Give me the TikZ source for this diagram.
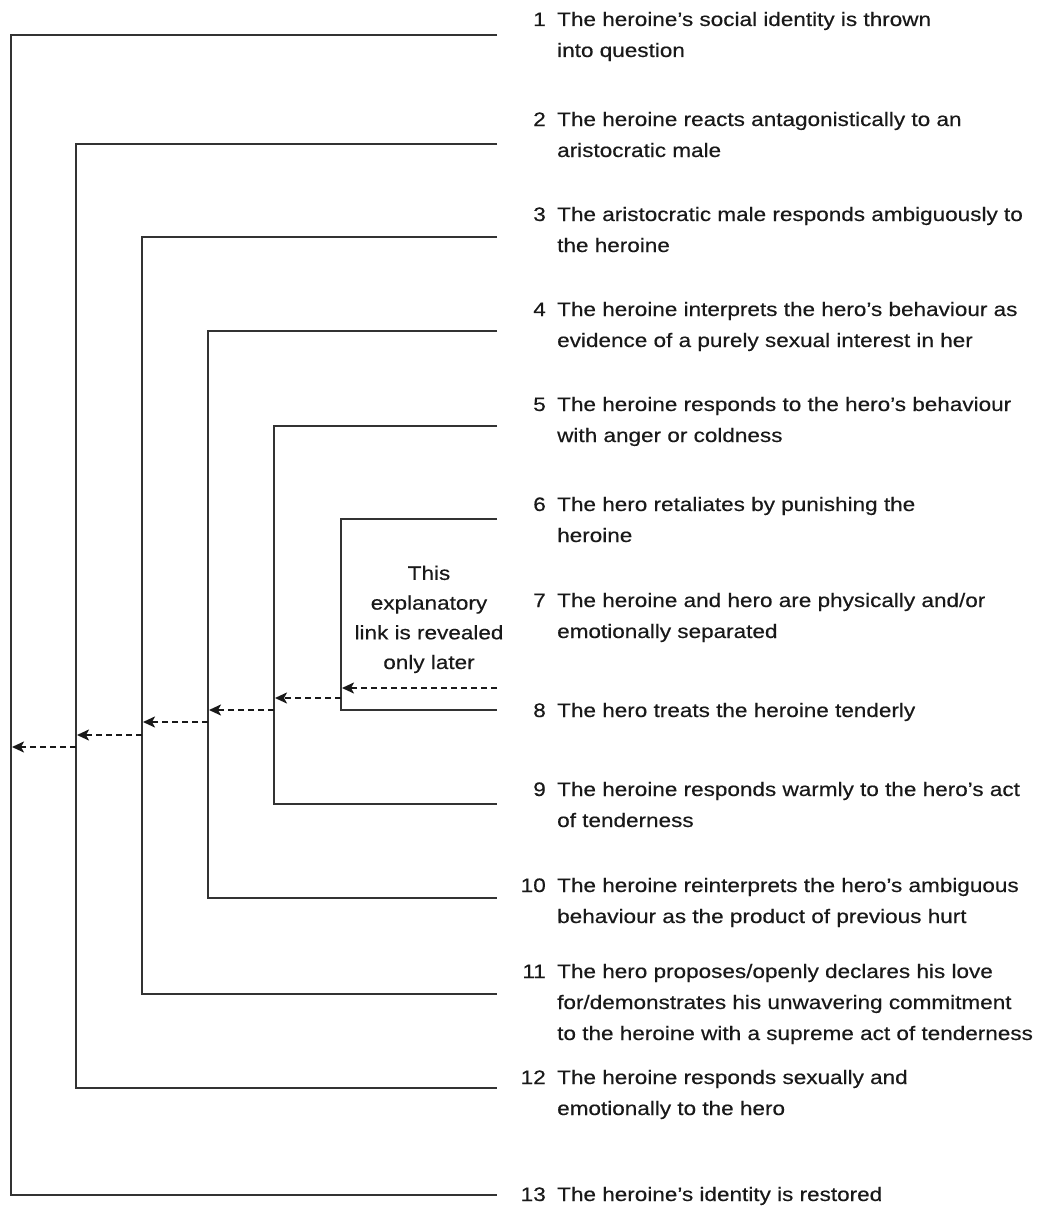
\documentclass[tikz,border=0pt]{standalone}
\usepackage{fontspec}
\setmainfont{Liberation Sans}[FakeStretch=1.155,FakeBold=0.4]
\usetikzlibrary{arrows.meta}
\begin{document}
\begin{tikzpicture}[x=1pt,y=-1pt,
  bracket/.style={draw=black!80,line width=2.2pt},
  revlink/.style={draw=black!90,line width=2.2pt,dash pattern=on 6pt off 4pt,
    -{Stealth[length=12pt,width=11pt,inset=3pt]}},
  num/.style={anchor=base east,inner sep=0pt,text=black!90,
    font=\fontsize{19.5}{31}\selectfont},
  item/.style={anchor=base west,inner sep=0pt,text=black!90,
    font=\fontsize{19.5}{31}\selectfont},
  note/.style={anchor=base,inner sep=0pt,text=black!90,align=center,
    font=\fontsize{19.5}{29.7}\selectfont}]
\useasboundingbox (0,0) rectangle (1039,1207);
\fill[white] (0,0) rectangle (1039,1207);

% right ends of the bracket arms
\foreach \n/\y in {1/35,2/144,3/237,4/331,5/426,6/519,8/710,9/804,10/898,11/994,12/1088,13/1195}
  \coordinate (e\n) at (497,\y);
% vertical spines of the nested brackets
\coordinate (s1t) at (11,35);    \coordinate (s1b) at (11,1195);
\coordinate (s2t) at (76,144);   \coordinate (s2b) at (76,1088);
\coordinate (s3t) at (142,237);  \coordinate (s3b) at (142,994);
\coordinate (s4t) at (208,331);  \coordinate (s4b) at (208,898);
\coordinate (s5t) at (274,426);  \coordinate (s5b) at (274,804);
\coordinate (s6t) at (341,519);  \coordinate (s6b) at (341,710);

\draw[bracket] (e1) -- (s1t) -- (s1b) -- (e13);
\draw[bracket] (e2) -- (s2t) -- (s2b) -- (e12);
\draw[bracket] (e3) -- (s3t) -- (s3b) -- (e11);
\draw[bracket] (e4) -- (s4t) -- (s4b) -- (e10);
\draw[bracket] (e5) -- (s5t) -- (s5b) -- (e9);
\draw[bracket] (e6) -- (s6t) -- (s6b) -- (e8);

% backward explanatory links
\coordinate (d0) at (497,688);
\coordinate (d6a) at (342,688); \coordinate (d6b) at (341,698);
\coordinate (d5a) at (275,698); \coordinate (d5b) at (274,710);
\coordinate (d4a) at (209,710); \coordinate (d4b) at (208,722);
\coordinate (d3a) at (143,722); \coordinate (d3b) at (142,735);
\coordinate (d2a) at (77,735);  \coordinate (d2b) at (76,747);
\coordinate (d1a) at (12,747);
\draw[revlink] (d0) -- (d6a);
\draw[revlink] (d6b) -- (d5a);
\draw[revlink] (d5b) -- (d4a);
\draw[revlink] (d4b) -- (d3a);
\draw[revlink] (d3b) -- (d2a);
\draw[revlink] (d2b) -- (d1a);

% base anchor of a centred multi-line node sits on its last line
\node[note] (link) at (429,669) {This\\explanatory\\link is revealed\\only later};

% numbered steps
\newcommand\stepitem[3]{%
  \node[num] (n#1) at (546,#2) {#1};
  \node[item] (t#1) at (557,#2) {\parbox[t]{480pt}{#3}};}
\stepitem{1}{26}{The heroine’s social identity is thrown\\into question}
\stepitem{2}{126}{The heroine reacts antagonistically to an\\aristocratic male}
\stepitem{3}{221}{The aristocratic male responds ambiguously to\\the heroine}
\stepitem{4}{316}{The heroine interprets the hero’s behaviour as\\evidence of a purely sexual interest in her}
\stepitem{5}{411}{The heroine responds to the hero’s behaviour\\with anger or coldness}
\stepitem{6}{511}{The hero retaliates by punishing the\\heroine}
\stepitem{7}{607}{The heroine and hero are physically and/or\\emotionally separated}
\stepitem{8}{717}{The hero treats the heroine tenderly}
\stepitem{9}{796}{The heroine responds warmly to the hero’s act\\of tenderness}
\stepitem{10}{892}{The heroine reinterprets the hero’s ambiguous\\behaviour as the product of previous hurt}
\stepitem{11}{978}{The hero proposes/openly declares his love\\for/demonstrates his unwavering commitment\\to the heroine with a supreme act of tenderness}
\stepitem{12}{1084}{The heroine responds sexually and\\emotionally to the hero}
\stepitem{13}{1201}{The heroine’s identity is restored}
\end{tikzpicture}
\end{document}
